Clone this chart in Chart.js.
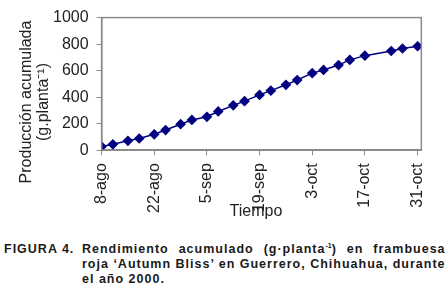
<!DOCTYPE html>
<html>
<head>
<meta charset="utf-8">
<script src="https://cdn.jsdelivr.net/npm/chart.js@4.4.0/dist/chart.umd.min.js"></script>
<style>
  body { margin: 0; background: #fff; width: 445px; height: 296px; overflow: hidden; font-family: "Liberation Sans", Arial, sans-serif; }
  #wrap { position: relative; width: 445px; height: 222px; }
  #caption { display: flex; margin: 20px 4px 0 4px; font-weight: bold; font-size: 12.5px; letter-spacing: 1px; line-height: 15px; color: #1a1a1a; }
  #caption .num { width: 78px; flex: none; }
  #caption .txt { flex: 1; }
  #caption .j { display: block; text-align: justify; text-align-last: justify; white-space: nowrap; }
  #caption sup { font-size: 7px; letter-spacing: 0; line-height: 0; vertical-align: baseline; position: relative; top: -5px; }
</style>
</head>
<body>
<div id="wrap"><canvas id="chart"></canvas></div>
<div id="caption">
  <div class="num">FIGURA 4.</div>
  <div class="txt">
    <span class="j">Rendimiento acumulado (g·planta<sup>-1</sup>) en frambuesa</span>
    <span class="j">roja ‘Autumn Bliss’ en Guerrero, Chihuahua, durante</span>
    <span>el año 2000.</span>
  </div>
</div>
<script>
// days counted from 8-ago
const days = [0, 3, 7, 10, 14, 17, 21, 24, 28, 31, 35, 38, 42, 45, 49, 52, 56, 59, 63, 66, 70, 77, 80, 84];
const produccion = [27, 44, 71, 88, 120, 152, 196, 228, 252, 292, 338, 370, 417, 449, 493, 529, 581, 605, 642, 681, 713, 748, 767, 784];
const tickDays = [0, 14, 28, 42, 56, 70, 84];
const tickLabels = ['8-ago', '22-ago', '5-sep', '19-sep', '3-oct', '17-oct', '31-oct'];
const yTitle = ['Producción acumulada', '(g.planta⁻¹)'];
const xTitle = 'Tiempo';

const fontFamily = '"Liberation Sans", Arial, sans-serif';
const font = { family: fontFamily, size: 16 };
const txt = '#222';
const axisGray = '#8a8a8a';

// plot frame plus axis titles placed the way the original figure has them
const frame = {
    id: 'frame',
    afterDraw(chart) {
        const { ctx, chartArea: a } = chart;
        ctx.save();
        ctx.strokeStyle = axisGray;
        ctx.lineWidth = 1.5;
        ctx.strokeRect(a.left, a.top, a.right - a.left, a.bottom - a.top);

        ctx.fillStyle = txt;
        ctx.font = '16px ' + fontFamily;
        ctx.textAlign = 'center';
        ctx.textBaseline = 'middle';
        ctx.fillText(xTitle, 256, 212);

        ctx.translate(0, 102);
        ctx.rotate(-Math.PI / 2);
        ctx.fillText(yTitle[0], 0, 27);
        ctx.fillText(yTitle[1], 0, 44);
        ctx.restore();
    }
};

new Chart(document.getElementById('chart'), {
    type: 'line',
    data: {
        datasets: [{
            data: days.map((d, i) => ({ x: d, y: produccion[i] })),
            borderColor: '#000080',
            backgroundColor: '#000080',
            borderWidth: 1.5,
            pointStyle: 'rectRot',
            pointRadius: 4.3,
            tension: 0
        }]
    },
    options: {
        responsive: true,
        maintainAspectRatio: false,
        animation: false,
        layout: { padding: { top: -5, right: 20, left: 45, bottom: 1 } },
        plugins: { legend: { display: false }, tooltip: { enabled: false } },
        scales: {
            x: {
                type: 'linear',
                min: 0,
                max: 85,
                afterBuildTicks: axis => { axis.ticks = tickDays.map(v => ({ value: v })); },
                ticks: {
                    color: txt, font, maxRotation: 90, minRotation: 90, padding: 8,
                    callback: v => tickLabels[tickDays.indexOf(v)]
                },
                grid: { drawOnChartArea: false, tickLength: 5, color: axisGray },
                border: { color: axisGray, width: 1.5 }
            },
            y: {
                min: 0,
                max: 1000,
                ticks: { stepSize: 200, color: txt, font, padding: 8, callback: v => String(v) },
                grid: { drawOnChartArea: false, tickLength: 5, color: axisGray },
                border: { color: axisGray, width: 1.5 }
            }
        }
    },
    plugins: [frame]
});
</script>
</body>
</html>
